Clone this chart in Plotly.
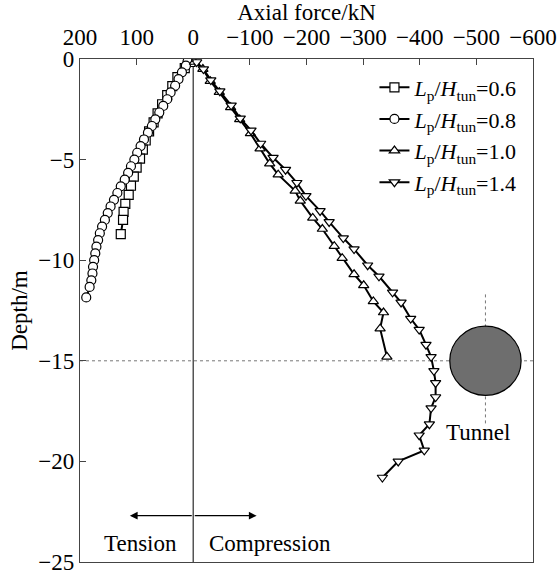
import plotly.graph_objects as go

# Axial force (kN, tension positive) along the pile depth (m) for each pile length ratio
depth_06 = [-0.15, -0.45, -0.9, -1.35, -1.8, -2.25, -2.7, -3.15, -3.6, -4.05,
            -4.5, -4.95, -5.4, -5.85, -6.3, -6.75, -7.2, -7.6, -8.0, -8.7]
force_06 = [5, 15, 28, 37, 46, 55, 63, 70, 78, 84,
            89, 94, 100, 105, 110, 114, 120, 123, 124, 128]

depth_08 = [-0.12, -0.33, -0.66, -1.0, -1.33, -1.66, -2.0, -2.33, -2.66, -3.0,
            -3.33, -3.66, -4.0, -4.33, -4.66, -5.0, -5.33, -5.66, -6.0, -6.33,
            -6.66, -7.0, -7.33, -7.66, -8.0, -8.33, -8.66, -9.0, -9.33, -9.66,
            -10.0, -10.33, -10.66, -11.0, -11.33, -11.85]
force_08 = [10, 13, 20, 26, 32, 40, 46, 53, 60, 67,
            73, 80, 87, 93, 99, 104, 110, 115, 121, 128,
            134, 140, 146, 151, 156, 161, 165, 168, 171, 173,
            175, 177, 178, 180, 183, 189]

depth_10 = [-0.15, -0.5, -1.1, -1.65, -2.4, -3.0, -3.7, -4.45, -5.2, -5.75,
            -6.55, -7.05, -7.9, -8.45, -9.3, -9.9, -10.7, -11.25, -12.05, -12.6,
            -13.4, -14.8]
force_10 = [-2, -17, -30, -46, -66, -82, -101, -118, -135, -150,
            -180, -189, -211, -228, -249, -263, -284, -301, -318, -336,
            -330, -342]

depth_14 = [-0.15, -0.5, -1.05, -1.6, -2.3, -2.95, -3.55, -4.2, -4.9, -5.5,
            -6.15, -6.8, -7.55, -8.1, -8.9, -9.45, -10.25, -10.8, -11.6, -12.1,
            -12.9, -13.45, -14.2, -14.8, -15.5, -16.1, -16.8, -17.35, -18.15, -18.7,
            -19.45, -20.0, -20.8]
force_14 = [-6, -18, -31, -47, -67, -83, -102, -119, -141, -163,
            -183, -199, -224, -240, -265, -284, -308, -328, -352, -367,
            -384, -399, -411, -420, -425, -428, -428, -420, -417, -399,
            -408, -362, -334]

ratios = ["0.6", "0.8", "1.0", "1.4"]
symbols = ["square", "circle", "triangle-up", "triangle-down"]

x_ticks = [200, 100, 0, -100, -200, -300, -400, -500, -600]
y_ticks = [0, -5, -10, -15, -20, -25]

# Tunnel cross-section (centre in force/depth units, half extents)
tunnel_x, tunnel_y = -516, -15
tunnel_rx, tunnel_ry = 63, 1.72

FONT = "'Liberation Serif', 'Times New Roman', Times, serif"
FS = 23

fig = go.Figure()

series = [(force_06, depth_06), (force_08, depth_08), (force_10, depth_10), (force_14, depth_14)]
for (fx, dy), r, sym in zip(series, ratios, symbols):
    fig.add_trace(go.Scatter(
        x=fx, y=dy, mode="lines+markers",
        name=f"<i>L</i><sub>p</sub>/<i>H</i><sub>tun</sub>={r}",
        line=dict(color="black", width=2),
        marker=dict(symbol=sym, size=9, color="white",
                    line=dict(color="black", width=1.2)),
    ))

shapes = [
    # zero-force line
    dict(type="line", xref="x", yref="paper", x0=0, x1=0, y0=0, y1=1,
         line=dict(color="#555555", width=1.5), layer="below"),
    # tunnel axis level
    dict(type="line", xref="paper", yref="y", x0=0, x1=1, y0=tunnel_y, y1=tunnel_y,
         line=dict(color="#777777", width=1, dash="dot"), layer="below"),
    dict(type="line", xref="x", yref="y", x0=tunnel_x, x1=tunnel_x,
         y0=tunnel_y + 3.3, y1=tunnel_y - 3.2,
         line=dict(color="#777777", width=1, dash="dot"), layer="below"),
    # tunnel
    dict(type="circle", xref="x", yref="y",
         x0=tunnel_x - tunnel_rx, x1=tunnel_x + tunnel_rx,
         y0=tunnel_y - tunnel_ry, y1=tunnel_y + tunnel_ry,
         fillcolor="#6e6e6e", line=dict(color="black", width=1.2)),
]

annotations = [
    dict(x=112, y=-22.7, ax=0, ay=-22.7, xref="x", yref="y", axref="x", ayref="y",
         text="", showarrow=True, arrowhead=2, arrowsize=1.2, arrowwidth=1.3, arrowcolor="black"),
    dict(x=-112, y=-22.7, ax=0, ay=-22.7, xref="x", yref="y", axref="x", ayref="y",
         text="", showarrow=True, arrowhead=2, arrowsize=1.2, arrowwidth=1.3, arrowcolor="black"),
    dict(x=94, y=-24.1, xref="x", yref="y", text="Tension", showarrow=False,
         font=dict(family=FONT, size=FS, color="black")),
    dict(x=-135, y=-24.1, xref="x", yref="y", text="Compression", showarrow=False,
         font=dict(family=FONT, size=FS, color="black")),
    dict(x=-502, y=-18.55, xref="x", yref="y", text="Tunnel", showarrow=False,
         font=dict(family=FONT, size=FS, color="black")),
]

fig.update_layout(
    width=558, height=575,
    margin=dict(l=80, r=25, t=59, b=13),
    paper_bgcolor="white", plot_bgcolor="white",
    font=dict(family=FONT, size=FS, color="black"),
    shapes=shapes, annotations=annotations,
    showlegend=True,
    legend=dict(x=0.65, y=0.985, xanchor="left", yanchor="top",
                bgcolor="rgba(0,0,0,0)", font=dict(family=FONT, size=22),
                tracegroupgap=0, itemwidth=30),
)

fig.update_xaxes(
    side="top", range=[200, -600], tickvals=x_ticks,
    ticks="inside", ticklen=6, tickcolor="#444444",
    showline=True, linecolor="#444444", linewidth=1.2, mirror=True,
    showgrid=False, zeroline=False, ticklabelstandoff=4, automargin=False,
    title=dict(text="Axial force/kN", standoff=0, font=dict(family=FONT, size=FS)),
    tickfont=dict(family=FONT, size=FS),
)
fig.update_yaxes(
    range=[-25, 0], tickvals=y_ticks,
    ticks="inside", ticklen=6, tickcolor="#444444",
    showline=True, linecolor="#444444", linewidth=1.2, mirror=True,
    showgrid=False, zeroline=False, ticklabeloverflow="allow", automargin=False,
    title=dict(text="Depth/m", standoff=4, font=dict(family=FONT, size=FS)),
    tickfont=dict(family=FONT, size=FS),
)

fig.write_html("out.html")
